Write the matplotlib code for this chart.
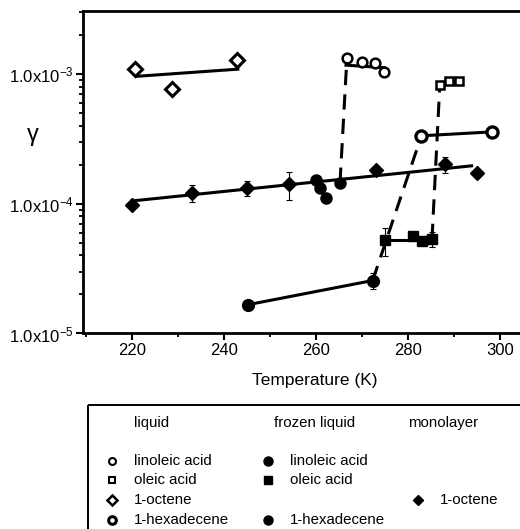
import matplotlib
matplotlib.use("Agg")
import matplotlib.pyplot as plt
import numpy as np
from matplotlib.patches import Rectangle
from matplotlib.ticker import MultipleLocator, LogLocator, FixedLocator, NullFormatter, FuncFormatter

plt.rcParams["font.family"] = ["Liberation Sans", "DejaVu Sans"]
plt.rcParams["mathtext.fontset"] = "custom"
plt.rcParams["mathtext.rm"] = "Liberation Sans"
plt.rcParams["mathtext.it"] = "Liberation Sans:italic"

# liquid phase
lin_liq_T = [266.7, 270.0, 272.8, 274.8]
lin_liq_g = [1.33e-3, 1.24e-3, 1.22e-3, 1.04e-3]
lin_liq_err = [0.0, 0.06e-3, 0.0, 0.0]
lin_liq_fit_T = [266.5, 274.8]
lin_liq_fit_g = [1.17e-3, 1.12e-3]

ole_liq_T = [286.9, 289.0, 291.0]
ole_liq_g = [8.3e-4, 8.85e-4, 8.85e-4]
ole_liq_fit_T = [286.9, 291.0]
ole_liq_fit_g = [8.6e-4, 8.85e-4]

oct_liq_T = [220.7, 228.7, 242.8]
oct_liq_g = [1.09e-3, 7.7e-4, 1.28e-3]
oct_liq_err = [0.09e-3, 0.0, 0.12e-3]
oct_liq_fit_T = [221.0, 243.0]
oct_liq_fit_g = [9.6e-4, 1.09e-3]

hex_liq_T = [282.9, 298.2]
hex_liq_g = [3.34e-4, 3.58e-4]

# frozen liquid
lin_frz_T = [260.0, 260.9, 262.2, 265.2]
lin_frz_g = [1.53e-4, 1.33e-4, 1.11e-4, 1.45e-4]

ole_frz_T = [275.0, 281.0, 283.0, 285.2]
ole_frz_g = [5.26e-5, 5.6e-5, 5.19e-5, 5.35e-5]
ole_frz_err = [1.3e-5, 0.0, 0.0, 0.7e-5]
ole_frz_fit_T = [275.0, 285.2]
ole_frz_fit_g = [5.25e-5, 5.25e-5]

hex_frz_T = [245.3, 272.3]
hex_frz_g = [1.67e-5, 2.56e-5]
hex_frz_err = [0.1e-5, 0.37e-5]

# monolayer
oct_mono_T = [219.9, 233.0, 244.9, 254.1, 273.0, 288.0, 294.9]
oct_mono_g = [9.8e-5, 1.22e-4, 1.32e-4, 1.42e-4, 1.83e-4, 2.02e-4, 1.74e-4]
oct_mono_err = [0.05e-4, 0.18e-4, 0.18e-4, 0.35e-4, 0.0, 0.28e-4, 0.0]
oct_mono_fit_T = [219.9, 293.8]
oct_mono_fit_g = [1.05e-4, 1.96e-4]

fig = plt.figure(figsize=(5.2, 5.29), dpi=100)
ax = fig.add_axes([0.1602, 0.3696, 0.89, 0.6096])

LW = 2.2
eb = dict(ecolor="black", elinewidth=0.8, capsize=2, capthick=0.8, linestyle="none", zorder=2)
op = dict(color="black", mfc="white", mec="black", linestyle="none", zorder=4)
fl = dict(color="black", mfc="black", mec="black", linestyle="none", zorder=4)

# fit lines
for tt, gg in [(lin_liq_fit_T, lin_liq_fit_g), (ole_liq_fit_T, ole_liq_fit_g),
               (oct_liq_fit_T, oct_liq_fit_g), (hex_liq_T, hex_liq_g),
               (ole_frz_fit_T, ole_frz_fit_g), (hex_frz_T, hex_frz_g),
               (oct_mono_fit_T, oct_mono_fit_g)]:
    ax.plot(tt, gg, "-", color="black", lw=LW, zorder=3)

# phase transitions (frozen -> liquid)
for ft, fg, lt, lg in [(lin_frz_T, lin_frz_g, lin_liq_T, lin_liq_g),
                       (ole_frz_T, ole_frz_g, ole_liq_T, ole_liq_g),
                       (hex_frz_T, hex_frz_g, hex_liq_T, hex_liq_g)]:
    ax.plot([ft[-1], lt[0]], [fg[-1], lg[0]], color="black", lw=LW,
            dashes=(5.0, 3.0), zorder=3)

# error bars
ax.errorbar(lin_liq_T, lin_liq_g, yerr=lin_liq_err, **eb)
ax.errorbar(oct_liq_T, oct_liq_g, yerr=oct_liq_err, **eb)
ax.errorbar(ole_frz_T, ole_frz_g, yerr=ole_frz_err, **eb)
ax.errorbar(hex_frz_T, hex_frz_g, yerr=hex_frz_err, **eb)
ax.errorbar(oct_mono_T, oct_mono_g, yerr=oct_mono_err, **eb)

# markers
ax.plot(oct_mono_T, oct_mono_g, "D", ms=7, **fl)
ax.plot(lin_frz_T, lin_frz_g, "o", ms=8, **fl)
ax.plot(ole_frz_T, ole_frz_g, "s", ms=7, **fl)
ax.plot(hex_frz_T, hex_frz_g, "o", ms=8.5, **fl)
ax.plot(lin_liq_T, lin_liq_g, "o", ms=7, mew=1.8, **op)
ax.plot(ole_liq_T, ole_liq_g, "s", ms=5.5, mew=1.8, **op)
ax.plot(oct_liq_T, oct_liq_g, "D", ms=6.8, mew=2.2, **op)
ax.plot(hex_liq_T, hex_liq_g, "o", ms=8, mew=2.4, **op)

ax.set_yscale("log")
ax.set_xlim(209.4, 310.0)
ax.set_ylim(1e-5, 3.06e-3)
ax.xaxis.set_major_locator(MultipleLocator(20))
ax.xaxis.set_minor_locator(MultipleLocator(10))
ax.yaxis.set_major_locator(FixedLocator([1e-5, 1e-4, 1e-3]))
ax.yaxis.set_minor_locator(LogLocator(base=10, subs=np.arange(2, 10)))
ax.yaxis.set_minor_formatter(NullFormatter())
ax.yaxis.set_major_formatter(FuncFormatter(
    lambda v, p: r"1.0x10$^{%d}$" % int(round(np.log10(v)))))

ax.tick_params(axis="both", which="major", direction="out", length=5, width=1.5,
               labelsize=12, pad=2, top=False, right=False)
ax.tick_params(axis="both", which="minor", direction="out", length=3, width=1.3,
               top=False, right=False)
for s in ax.spines.values():
    s.set_linewidth(2.0)

ax.set_xlabel("Temperature (K)", fontsize=12.5)
ax.xaxis.set_label_coords(0.5, -0.122)
ax.text(-0.109, 0.615, "γ", transform=ax.transAxes, fontsize=17,
        ha="center", va="center")

# legend box drawn in pixel coordinates
lg = fig.add_axes([0, 0, 1, 1])
lg.set_xlim(0, 520)
lg.set_ylim(529, 0)
lg.axis("off")
lg.add_patch(Rectangle((88.3, 405), 500, 200, fill=False, lw=1.4, ec="black"))

fs = 10.8
lg.text(134, 423, "liquid", fontsize=fs, va="center")
lg.text(274, 423, "frozen liquid", fontsize=fs, va="center")
lg.text(408, 423, "monolayer", fontsize=fs, va="center")

rows = [461, 480, 500, 519.5]
liq_names = ["linoleic acid", "oleic acid", "1-octene", "1-hexadecene"]
liq_marks = [("o", 5, 1.5), ("s", 4.5, 1.5), ("D", 4.8, 1.8), ("o", 5.5, 2.2)]
for y, name, (m, ms, mew) in zip(rows, liq_names, liq_marks):
    lg.plot([112], [y], m, ms=ms, mew=mew, **op)
    lg.text(134, y, name, fontsize=fs, va="center")

frz_rows = [rows[0], rows[1], rows[3]]
frz_names = ["linoleic acid", "oleic acid", "1-hexadecene"]
frz_marks = [("o", 6.5), ("s", 6), ("o", 6.5)]
for y, name, (m, ms) in zip(frz_rows, frz_names, frz_marks):
    lg.plot([268], [y], m, ms=ms, **fl)
    lg.text(290, y, name, fontsize=fs, va="center")

lg.plot([418], [rows[2]], "D", ms=5.5, **fl)
lg.text(440, rows[2], "1-octene", fontsize=fs, va="center")

fig.savefig("out.png", dpi=100)
